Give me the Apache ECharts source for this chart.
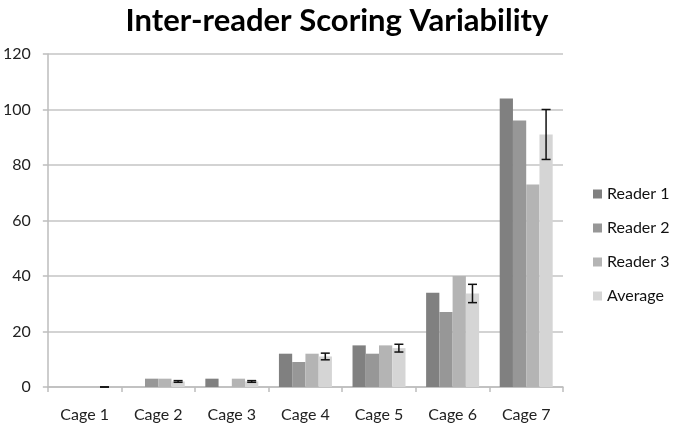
<!DOCTYPE html>
<html>
<head>
<meta charset="utf-8">
<script src="https://cdn.jsdelivr.net/npm/echarts@6/dist/echarts.min.js"></script>
<style>html,body{margin:0;padding:0;background:#fff}#c{width:674px;height:427px}</style>
</head>
<body>
<div id="c"></div>
<script>
var categories = ['Cage 1', 'Cage 2', 'Cage 3', 'Cage 4', 'Cage 5', 'Cage 6', 'Cage 7'];
var reader1 = [0, 0, 3, 12, 15, 34, 104];
var reader2 = [0, 3, 0, 9, 12, 27, 96];
var reader3 = [0, 3, 3, 12, 15, 40, 73];
var average = [0, 2, 2, 11, 14, 33.7, 91];
var errors = [0, 0.3, 0.3, 1.2, 1.4, 3.3, 9];
var yTicks = [0, 20, 40, 60, 80, 100, 120];

var FONT = 'Lato';
var CAT_GAP = 0.28;
var errData = average.map(function (v, i) { return [i, v - errors[i], v + errors[i]]; });

var chart = echarts.init(document.getElementById('c'));
chart.setOption({
  animation: false,
  backgroundColor: '#ffffff',
  title: {
    text: 'Inter-reader Scoring Variability',
    left: 'center',
    top: 0,
    textStyle: { fontFamily: FONT, fontWeight: 'bold', fontSize: 31, color: '#000' }
  },
  legend: {
    orient: 'vertical',
    left: 588,
    top: 181,
    itemWidth: 9,
    itemHeight: 9,
    itemGap: 18,
    icon: 'rect',
    data: ['Reader 1', 'Reader 2', 'Reader 3', 'Average'],
    textStyle: { fontFamily: FONT, fontSize: 16, color: '#111' }
  },
  grid: { left: 45, right: 111, top: 54, bottom: 40, containLabel: false },
  xAxis: {
    type: 'category',
    data: categories,
    axisLine: { lineStyle: { color: '#bdbdbd', width: 1.5 } },
    axisTick: { show: true, alignWithLabel: false, length: 5, lineStyle: { color: '#bdbdbd', width: 1.5 } },
    axisLabel: { fontFamily: FONT, fontSize: 16, color: '#222', margin: 20 }
  },
  yAxis: {
    type: 'value',
    min: yTicks[0],
    max: yTicks[yTicks.length - 1],
    interval: 20,
    axisLine: { show: true, lineStyle: { color: '#bdbdbd', width: 1.5 } },
    axisTick: { show: true, length: 5, lineStyle: { color: '#bdbdbd', width: 1.5 } },
    splitLine: { lineStyle: { color: '#c4c4c4', width: 1.5 } },
    axisLabel: { fontFamily: FONT, fontSize: 16, color: '#222', margin: 17 }
  },
  series: [
    { name: 'Reader 1', type: 'bar', data: reader1, barGap: '0%', barCategoryGap: (CAT_GAP * 100) + '%', itemStyle: { color: '#808080' } },
    { name: 'Reader 2', type: 'bar', data: reader2, itemStyle: { color: '#979797' } },
    { name: 'Reader 3', type: 'bar', data: reader3, itemStyle: { color: '#b4b4b4' } },
    { name: 'Average', type: 'bar', data: average, itemStyle: { color: '#d5d5d5' } },
    {
      type: 'custom',
      name: 'error',
      data: errData,
      z: 10,
      renderItem: function (params, api) {
        var idx = api.value(0);
        var lo = api.coord([idx, api.value(1)]);
        var hi = api.coord([idx, api.value(2)]);
        var catW = api.size([1, 0])[0];
        var barW = catW * (1 - CAT_GAP) / 4;
        var x = lo[0] + 1.5 * barW;
        var cap = 4.5;
        var st = { stroke: '#111', lineWidth: 1.5 };
        return {
          type: 'group',
          children: [
            { type: 'line', shape: { x1: x, y1: lo[1], x2: x, y2: hi[1] }, style: st },
            { type: 'line', shape: { x1: x - cap, y1: lo[1], x2: x + cap, y2: lo[1] }, style: st },
            { type: 'line', shape: { x1: x - cap, y1: hi[1], x2: x + cap, y2: hi[1] }, style: st }
          ]
        };
      }
    }
  ]
});
</script>
</body>
</html>
